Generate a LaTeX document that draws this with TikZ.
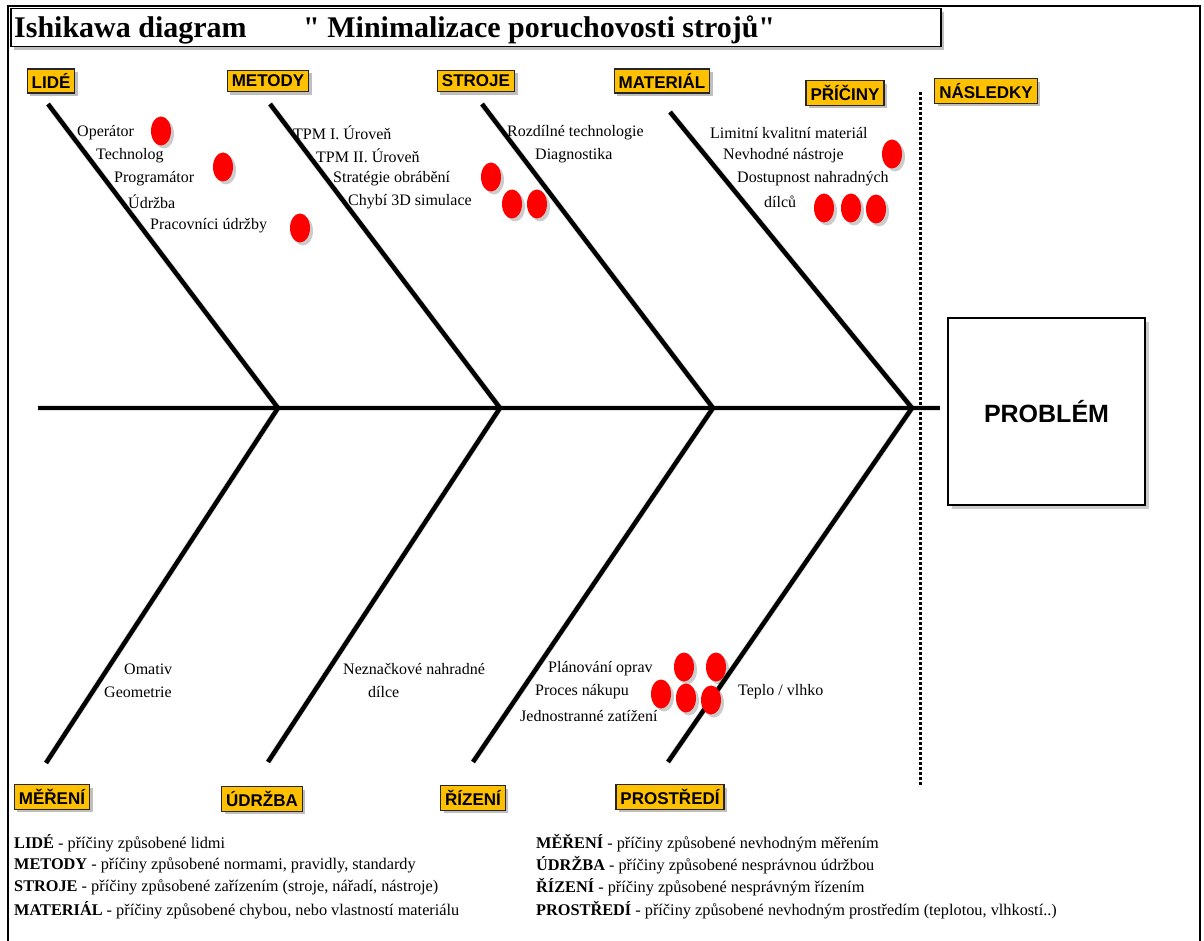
\documentclass[tikz,border=0pt]{standalone}
\usepackage{fontspec}
\setmainfont{Liberation Serif}
\newfontfamily\lsans{Liberation Sans}
\newfontfamily\titleserif{Liberation Serif}[Ligatures=TeXOff]
\usetikzlibrary{shadows,shapes.geometric}
\definecolor{labelgold}{HTML}{FFC000}
\definecolor{dotred}{HTML}{FF0000}
\tikzset{
  cat/.style={draw=black!85, line width=1.2pt, fill=labelgold,
    font=\lsans\bfseries\fontsize{17}{20}\selectfont, inner xsep=4.5pt, inner ysep=4.5pt,
    drop shadow={shadow xshift=3pt, shadow yshift=-3pt, fill=black, opacity=0.25}},
  bone/.style={line width=4.5pt},
  boneshade/.style={line width=6pt, black, opacity=0.12, xshift=3pt, yshift=-3pt},
  cause/.style={anchor=west, font=\fontsize{16}{19}\selectfont, inner sep=0pt},
  legend/.style={anchor=west, font=\fontsize{16.3}{19}\selectfont, inner sep=0pt},
  reddot/.style={ellipse, fill=dotred, minimum width=20pt, minimum height=29pt, inner sep=0pt,
    drop shadow={shadow xshift=3pt, shadow yshift=-3pt, fill=black, opacity=0.2}},
}
\begin{document}
\begin{tikzpicture}[x=1pt,y=-1pt]
\useasboundingbox (0,0) rectangle (1204,941);
\fill[white] (0,0) rectangle (1204,941);

% outer frame, open at the bottom
\draw[line width=2pt] (8,941) -- (8,6) -- (1200,6) -- (1200,941);

% title bar
\node[draw, line width=1.5pt, fill=white, minimum width=930pt, minimum height=38pt, anchor=north west,
  drop shadow={shadow xshift=3pt, shadow yshift=-3pt, fill=black, opacity=0.25}] (titlebar) at (10,8) {};
\node[anchor=base west, inner sep=0pt, font=\titleserif\bfseries\fontsize{30}{33}\selectfont] (t1) at (14,38) {Ishikawa diagram};
\node[anchor=base west, inner sep=0pt, font=\titleserif\bfseries\fontsize{30}{33}\selectfont] (t2) at (303,38) {" Minimalizace poruchovosti strojů"};

% spine and bone end points
\coordinate (tail) at (38,408);
\coordinate (head) at (940,408);
\coordinate (j1) at (278,408);
\coordinate (j2) at (500,408);
\coordinate (j3) at (713,408);
\coordinate (j4) at (912,408);
\coordinate (u1) at (48,104);
\coordinate (u2) at (270,104);
\coordinate (u3) at (482,104);
\coordinate (u4) at (670,112);
\coordinate (d1) at (46,763);
\coordinate (d2) at (268,762);
\coordinate (d3) at (473,762);
\coordinate (d4) at (668,762);

% soft shadows under the skeleton
\begin{scope}[boneshade]
  \draw (tail) -- (head);
  \draw (u1) -- (j1); \draw (u2) -- (j2); \draw (u3) -- (j3); \draw (u4) -- (j4);
  \draw (d1) -- (j1); \draw (d2) -- (j2); \draw (d3) -- (j3); \draw (d4) -- (j4);
\end{scope}

% spine
\draw[bone] (tail) -- (head);
% upper bones
\draw[bone] (u1) -- (j1);
\draw[bone] (u2) -- (j2);
\draw[bone] (u3) -- (j3);
\draw[bone] (u4) -- (j4);
% lower bones
\draw[bone] (d1) -- (j1);
\draw[bone] (d2) -- (j2);
\draw[bone] (d3) -- (j3);
\draw[bone] (d4) -- (j4);

% boundary between causes and effects
\coordinate (sepTop) at (920,92);
\coordinate (sepBot) at (920,786);
\draw[line width=3pt, dash pattern=on 3pt off 2pt] (sepTop) -- (sepBot);

% effect
\node[draw, line width=1.2pt, fill=white, minimum width=197pt, minimum height=187pt,
  font=\lsans\bfseries\fontsize{25}{30}\selectfont,
  drop shadow={shadow xshift=4pt, shadow yshift=-4pt, fill=black, opacity=0.2}] (problem) at (1046.5,411.5) {PROBLÉM};

% category labels
\node[cat] (lide) at (51,81) {LIDÉ};
\node[cat] (metody) at (268,81) {METODY};
\node[cat] (stroje) at (476,81) {STROJE};
\node[cat] (material) at (662,81) {MATERIÁL};
\node[cat] (priciny) at (845,93) {PŘÍČINY};
\node[cat] (nasledky) at (986,91) {NÁSLEDKY};
\node[cat] (mereni) at (52,797) {MĚŘENÍ};
\node[cat] (udrzba) at (262,799) {ÚDRŽBA};
\node[cat] (rizeni) at (473,798) {ŘÍZENÍ};
\node[cat] (prostredi) at (670,797) {PROSTŘEDÍ};

% causes: LIDÉ
\node[cause] (c11) at (77,133) {Operátor};
\node[cause] (c12) at (96,156) {Technolog};
\node[cause] (c13) at (114,179) {Programátor};
\node[cause] (c14) at (128,202) {Údržba};
\node[cause] (c15) at (150,226) {Pracovníci údržby};
% causes: METODY
\node[cause] (c21) at (293,133) {TPM I. Úroveň};
\node[cause] (c22) at (316,156) {TPM II. Úroveň};
\node[cause] (c23) at (333,179) {Stratégie obrábění};
\node[cause] (c24) at (348,202) {Chybí 3D simulace};
% causes: STROJE
\node[cause] (c31) at (507,133) {Rozdílné technologie};
\node[cause] (c32) at (535,156) {Diagnostika};
% causes: MATERIÁL
\node[cause] (c41) at (710,133) {Limitní kvalitní materiál};
\node[cause] (c42) at (723,156) {Nevhodné nástroje};
\node[cause] (c43) at (737,179) {Dostupnost nahradných};
\node[cause] (c44) at (764,202) {dílců};
% causes: MĚŘENÍ
\node[cause] (c51) at (124,669) {Omativ};
\node[cause] (c52) at (104,692) {Geometrie};
% causes: ÚDRŽBA
\node[cause] (c61) at (343,669) {Neznačkové nahradné};
\node[cause] (c62) at (368,692) {dílce};
% causes: ŘÍZENÍ
\node[cause] (c71) at (548,669) {Plánování oprav};
\node[cause] (c72) at (535,692) {Proces nákupu};
\node[cause] (c73) at (520,716) {Jednostranné zatížení};
% causes: PROSTŘEDÍ
\node[cause] (c81) at (738,692) {Teplo / vlhko};

% priority marks
\node[reddot] (m1) at (161,131) {};
\node[reddot] (m2) at (223,167) {};
\node[reddot] (m3) at (300,228) {};
\node[reddot] (m4) at (491,177) {};
\node[reddot] (m5) at (512,204) {};
\node[reddot] (m6) at (537,204) {};
\node[reddot] (m7) at (892,154) {};
\node[reddot] (m8) at (824,208) {};
\node[reddot] (m9) at (851,208) {};
\node[reddot] (m10) at (876,209) {};
\node[reddot] (m11) at (684,667) {};
\node[reddot] (m12) at (716,667) {};
\node[reddot] (m13) at (661,694) {};
\node[reddot] (m14) at (686,698) {};
\node[reddot] (m15) at (711,700) {};

% legend
\node[legend] (l1) at (14,843) {\textbf{LIDÉ} - příčiny způsobené lidmi};
\node[legend] (l2) at (14,865) {\textbf{METODY} - příčiny způsobené normami, pravidly, standardy};
\node[legend] (l3) at (14,887) {\textbf{STROJE} - příčiny způsobené zařízením (stroje, nářadí, nástroje)};
\node[legend] (l4) at (14,910) {\textbf{MATERIÁL} - příčiny způsobené chybou, nebo vlastností materiálu};
\node[legend] (l5) at (536,843) {\textbf{MĚŘENÍ} - příčiny způsobené nevhodným měřením};
\node[legend] (l6) at (536,865) {\textbf{ÚDRŽBA} - příčiny způsobené nesprávnou údržbou};
\node[legend] (l7) at (536,887) {\textbf{ŘÍZENÍ} - příčiny způsobené nesprávným řízením};
\node[legend] (l8) at (536,910) {\textbf{PROSTŘEDÍ} - příčiny způsobené nevhodným prostředím (teplotou, vlhkostí..)};
\end{tikzpicture}
\end{document}
